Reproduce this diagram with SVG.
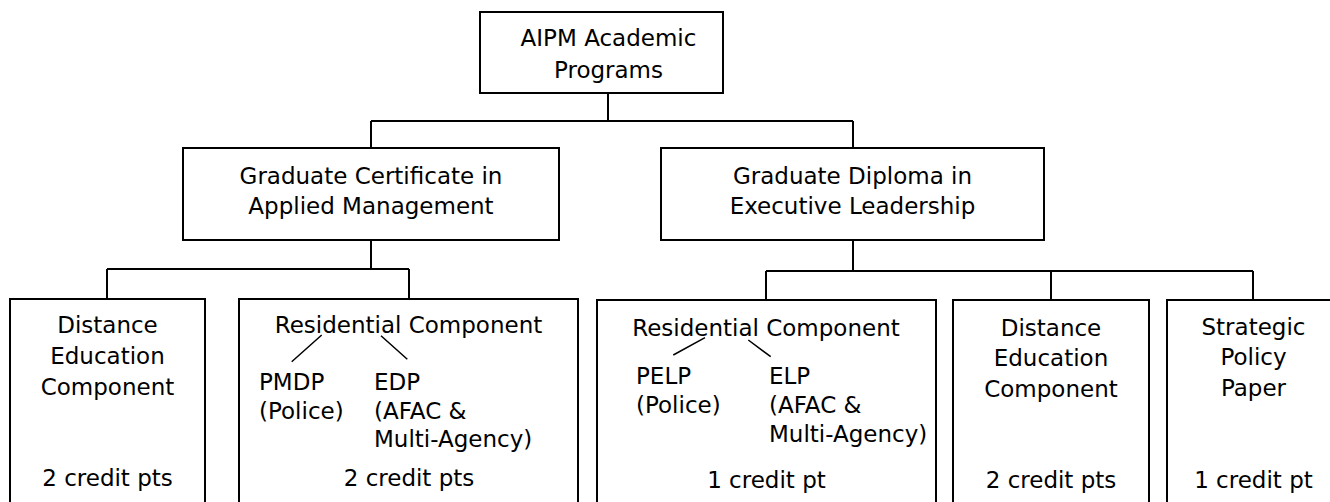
<svg xmlns="http://www.w3.org/2000/svg" width="1330" height="502" viewBox="0 0 1330 502">
<style>
.box{fill:#fff;stroke:#000;stroke-width:2}
.ln{fill:none;stroke:#000;stroke-width:2}
.dg{fill:none;stroke:#000;stroke-width:1.5}
text{font-family:"DejaVu Sans","Liberation Sans",sans-serif;font-size:23px;fill:#000}
.c{text-anchor:middle}
</style>
<rect width="1330" height="502" fill="#fff"/>
<g id="connectors">
<path class="ln" d="M608 93V121M371 121H853M371 121V148M853 121V148"/>
<path class="ln" d="M371 240V269M107 269H409M107 269V299M409 269V299"/>
<path class="ln" d="M853 240V271M766 271H1253M766 271V300M1051 271V300M1253 271V300"/>
</g>
<g id="n-root">
<rect class="box" x="480" y="12" width="243" height="81"/>
<text class="c" x="608.5" y="46">AIPM Academic</text>
<text class="c" x="608.5" y="78">Programs</text>
</g>
<g id="n-gcam">
<rect class="box" x="183" y="148" width="376" height="92"/>
<text class="c" x="371" y="183.5">Graduate Certificate in</text>
<text class="c" x="371" y="214">Applied Management</text>
</g>
<g id="n-gdel">
<rect class="box" x="661" y="148" width="383" height="92"/>
<text class="c" x="852.5" y="183.5">Graduate Diploma in</text>
<text class="c" x="852.5" y="214">Executive Leadership</text>
</g>
<g id="n-dist1">
<rect class="box" x="10" y="299" width="195" height="225"/>
<text class="c" x="107.5" y="333">Distance</text>
<text class="c" x="107.5" y="364">Education</text>
<text class="c" x="107.5" y="394.5">Component</text>
<text class="c" x="107.5" y="486">2 credit pts</text>
</g>
<g id="n-res1">
<rect class="box" x="239" y="299" width="339" height="225"/>
<text class="c" x="408.5" y="332.5">Residential Component</text>
<path class="dg" d="M321.7 335L291.7 361.7M381 335.7L407.3 359.3"/>
<text x="259" y="389.5">PMDP</text>
<text x="259" y="418.5">(Police)</text>
<text x="374" y="389.5">EDP</text>
<text x="374" y="418.5">(AFAC &amp;</text>
<text x="374" y="446.5">Multi-Agency)</text>
<text class="c" x="409" y="486">2 credit pts</text>
</g>
<g id="n-res2">
<rect class="box" x="597" y="300" width="339" height="225"/>
<text class="c" x="766" y="335.5">Residential Component</text>
<path class="dg" d="M705 337.7L673.3 355M748.3 340L770.7 356.7"/>
<text x="636" y="384">PELP</text>
<text x="636" y="413">(Police)</text>
<text x="769" y="384">ELP</text>
<text x="769" y="413">(AFAC &amp;</text>
<text x="769" y="441.5">Multi-Agency)</text>
<text class="c" x="766.5" y="488">1 credit pt</text>
</g>
<g id="n-dist2">
<rect class="box" x="953" y="300" width="196" height="225"/>
<text class="c" x="1051" y="335.5">Distance</text>
<text class="c" x="1051" y="366">Education</text>
<text class="c" x="1051" y="396.5">Component</text>
<text class="c" x="1051" y="488">2 credit pts</text>
</g>
<g id="n-spp">
<rect class="box" x="1167" y="300" width="173" height="225"/>
<text class="c" x="1253.5" y="334.5">Strategic</text>
<text class="c" x="1253.5" y="365">Policy</text>
<text class="c" x="1253.5" y="396">Paper</text>
<text class="c" x="1253.5" y="488">1 credit pt</text>
</g>
</svg>
